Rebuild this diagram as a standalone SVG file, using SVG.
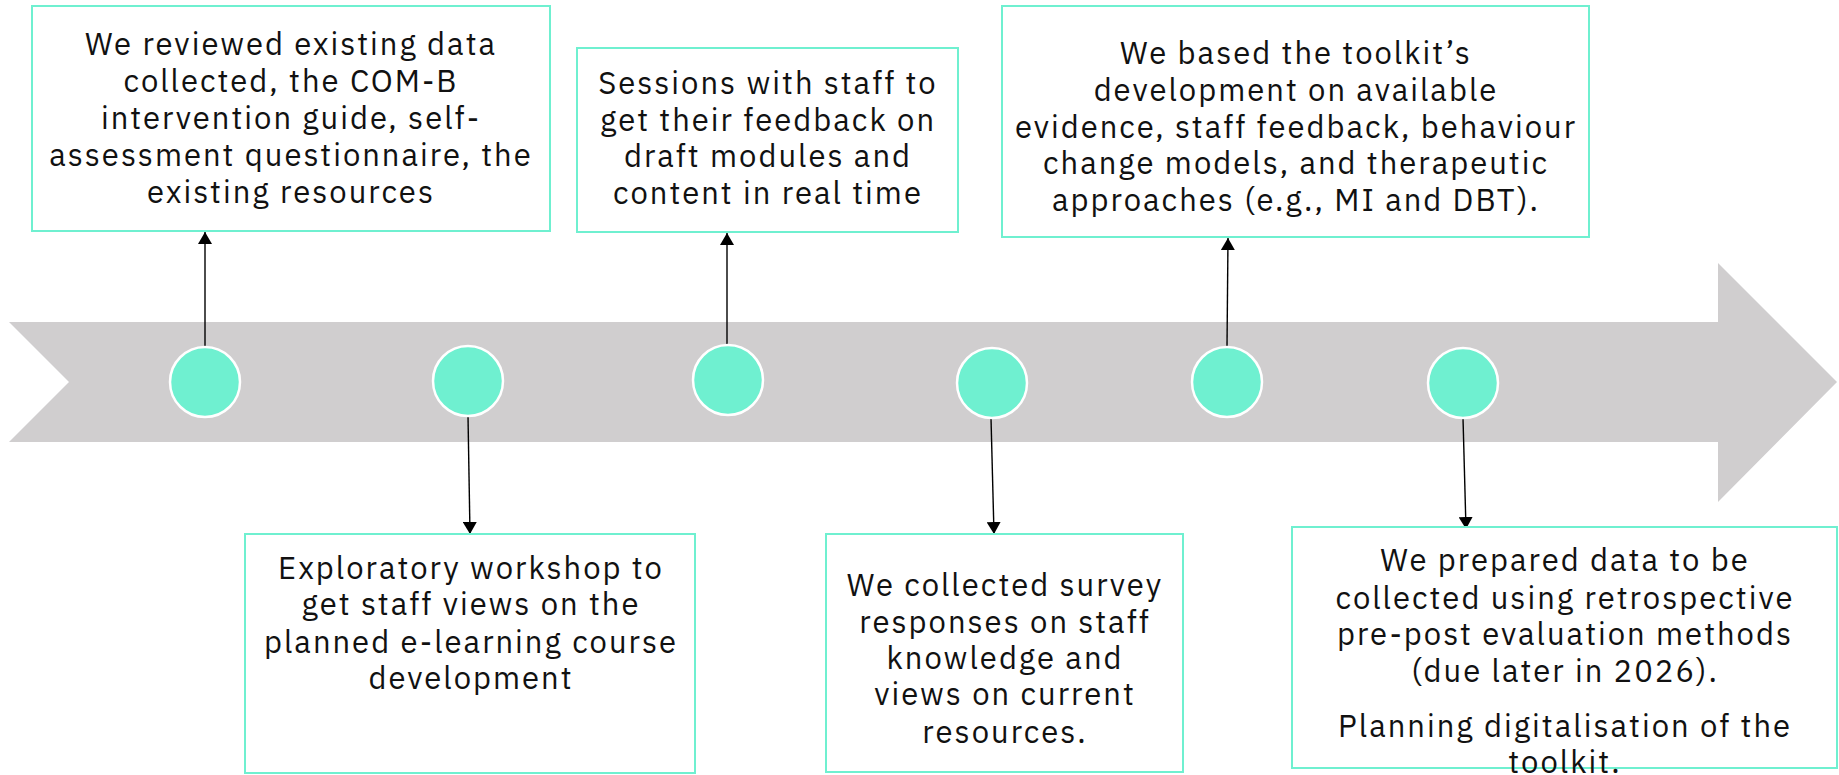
<svg xmlns="http://www.w3.org/2000/svg" width="1839" height="775" viewBox="0 0 1839 775">
<style>
.box{fill:#fff;stroke:#6ff0d0;stroke-width:2}
.dot{fill:#6ff0d0;stroke:#fff;stroke-width:2.5}
.lbl{font-family:"IBM Plex Sans","Open Sans","Noto Sans",sans-serif;font-size:31px;letter-spacing:2px;fill:#111;text-anchor:middle}
.con{stroke:#000;stroke-width:1.4;fill:none;marker-end:url(#ah)}
</style>
<defs>
<marker id="ah" markerWidth="12" markerHeight="14" refX="12" refY="7" orient="auto" markerUnits="userSpaceOnUse" viewBox="0 0 12 14">
<path d="M0,0 L12,7 L0,14 Z" fill="#000"/>
</marker>
</defs>
<rect width="1839" height="775" fill="#fff"/>
<g id="timeline">
<polygon points="9,322 1718,322 1718,263 1837,382 1718,502 1718,442 9,442 69,382" fill="#d0cecf"/>
</g>
<g id="connectors">
<line class="con" x1="205" y1="346" x2="205" y2="232"/>
<line class="con" x1="468" y1="416" x2="470" y2="534"/>
<line class="con" x1="727" y1="346" x2="727" y2="233"/>
<line class="con" x1="991" y1="418" x2="994" y2="534"/>
<line class="con" x1="1227" y1="347" x2="1228" y2="238"/>
<line class="con" x1="1463" y1="418" x2="1466" y2="529"/>
</g>
<g id="dots">
<circle class="dot" cx="205" cy="382" r="35"/>
<circle class="dot" cx="468" cy="381" r="35"/>
<circle class="dot" cx="728" cy="380" r="35"/>
<circle class="dot" cx="992" cy="383" r="35"/>
<circle class="dot" cx="1227" cy="382" r="35"/>
<circle class="dot" cx="1463" cy="383" r="35"/>
</g>
<g id="n1">
<rect class="box" x="32" y="6" width="518" height="225"/>
<text class="lbl"><tspan x="291" y="55">We reviewed existing data</tspan><tspan x="291" y="92">collected, the COM-B</tspan><tspan x="291" y="129">intervention guide, self-</tspan><tspan x="291" y="166">assessment questionnaire, the</tspan><tspan x="291" y="203">existing resources</tspan></text>
</g>
<g id="n2">
<rect class="box" x="577" y="48" width="381" height="184"/>
<text class="lbl"><tspan x="768" y="94">Sessions with staff to</tspan><tspan x="768" y="131">get their feedback on</tspan><tspan x="768" y="167">draft modules and</tspan><tspan x="768" y="204">content in real time</tspan></text>
</g>
<g id="n3">
<rect class="box" x="1002" y="6" width="587" height="231"/>
<text class="lbl"><tspan x="1296" y="64">We based the toolkit’s</tspan><tspan x="1296" y="101">development on available</tspan><tspan x="1296" y="138">evidence, staff feedback, behaviour</tspan><tspan x="1296" y="174">change models, and therapeutic</tspan><tspan x="1296" y="211">approaches (e.g., MI and DBT).</tspan></text>
</g>
<g id="n4">
<rect class="box" x="245" y="534" width="450" height="239"/>
<text class="lbl"><tspan x="471" y="579">Exploratory workshop to</tspan><tspan x="471" y="615">get staff views on the</tspan><tspan x="471" y="653">planned e-learning course</tspan><tspan x="471" y="689">development</tspan></text>
</g>
<g id="n5">
<rect class="box" x="826" y="534" width="357" height="238"/>
<text class="lbl"><tspan x="1005" y="596">We collected survey</tspan><tspan x="1005" y="633">responses on staff</tspan><tspan x="1005" y="669">knowledge and</tspan><tspan x="1005" y="705">views on current</tspan><tspan x="1005" y="743">resources.</tspan></text>
</g>
<g id="n6">
<rect class="box" x="1292" y="527" width="545" height="241"/>
<text class="lbl"><tspan x="1565" y="571">We prepared data to be</tspan><tspan x="1565" y="609">collected using retrospective</tspan><tspan x="1565" y="645">pre-post evaluation methods</tspan><tspan x="1565" y="682">(due later in 2026).</tspan><tspan x="1565" y="737">Planning digitalisation of the</tspan><tspan x="1565" y="773">toolkit.</tspan></text>
</g>
</svg>
